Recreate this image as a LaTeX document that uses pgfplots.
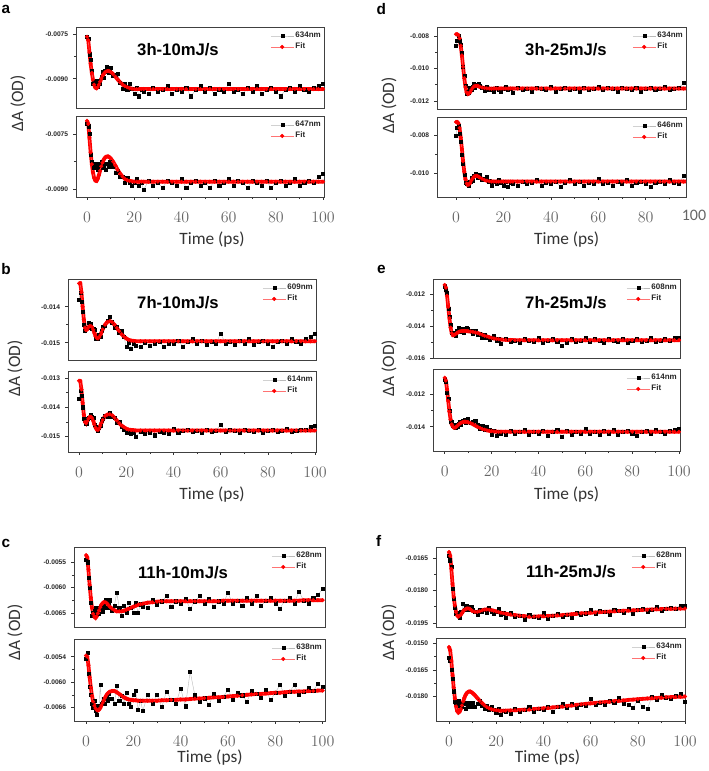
\documentclass[border=0pt]{standalone}
\usepackage{pgfplots}
\pgfplotsset{compat=1.18}
\usepackage{pgfplotstable}
\usepackage{fontspec}
\setmainfont{Liberation Sans}
\newfontfamily\lightfont{Carlito}

\pgfplotstableread{
t aT aB bT bB cT cB dT dB eT eB fT fB
0 -0.00758 -0.00720 -0.01380 -0.01370 -0.00545 -0.00545 -0.00860 -0.00800 -0.01150 -0.01110 -0.01640 -0.01580
0.5 -0.00763 -0.00728 -0.01360 -0.01345 -0.00550 -0.00530 -0.00830 -0.00760 -0.01175 -0.01120 -0.01660 -0.01600
1 -0.00817 -0.00748 -0.01385 -0.01360 -0.00580 -0.00580 -0.00800 -0.00750 -0.01190 -0.01190 -0.01690 -0.01650
1.5 -0.00836 -0.00806 -0.01415 -0.01400 -0.00600 -0.00610 -0.00830 -0.00790 -0.01290 -0.01226 -0.01790 -0.01700
2 -0.00873 -0.00826 -0.01450 -0.01440 -0.00630 -0.00630 -0.00852 -0.00830 -0.01340 -0.01298 -0.01840 -0.01770
2.5 -0.00917 -0.00830 -0.01466 -0.01445 -0.00655 -0.00650 -0.00904 -0.00900 -0.01394 -0.01369 -0.01880 -0.01830
3 -0.00906 -0.00842 -0.01457 -0.01455 -0.00650 -0.00660 -0.00990 -0.00950 -0.01445 -0.01371 -0.01905 -0.01834
3.5 -0.00923 -0.00830 -0.01458 -0.01439 -0.00645 -0.00645 -0.01044 -0.01005 -0.01442 -0.01393 -0.01902 -0.01842
4 -0.00911 -0.00836 -0.01445 -0.01434 -0.00640 -0.00668 -0.01107 -0.01050 -0.01449 -0.01385 -0.01914 -0.01826
4.5 -0.00928 -0.00848 -0.01454 -0.01437 -0.00650 -0.00678 -0.01156 -0.01052 -0.01460 -0.01405 -0.01925 -0.01850
5 -0.00906 -0.00830 -0.01446 -0.01424 -0.00640 -0.00655 -0.01142 -0.01046 -0.01430 -0.01386 -0.01898 -0.01834
5.5 -0.00917 -0.00836 -0.01461 -0.01433 -0.00652 -0.00660 -0.01147 -0.01064 -0.01433 -0.01400 -0.01897 -0.01858
6 -0.00893 -0.00824 -0.01460 -0.01434 -0.00642 -0.00607 -0.01121 -0.01041 -0.01413 -0.01379 -0.01860 -0.01842
6.5 -0.00877 -0.00842 -0.01465 -0.01458 -0.00636 -0.00650 -0.01132 -0.01022 -0.01434 -0.01366 -0.01890 -0.01834
7 -0.00898 -0.00836 -0.01490 -0.01465 -0.00648 -0.00648 -0.01112 -0.01039 -0.01424 -0.01389 -0.01879 -0.01866
7.5 -0.00872 -0.00830 -0.01483 -0.01468 -0.00632 -0.00640 -0.01096 -0.01010 -0.01415 -0.01365 -0.01870 -0.01842
8 -0.00876 -0.00848 -0.01488 -0.01481 -0.00640 -0.00650 -0.01116 -0.01013 -0.01439 -0.01370 -0.01890 -0.01850
8.5 -0.00860 -0.00832 -0.01477 -0.01468 -0.00625 -0.00638 -0.01099 -0.00998 -0.01423 -0.01355 -0.01877 -0.01834
9 -0.00881 -0.00838 -0.01483 -0.01463 -0.00640 -0.00645 -0.01108 -0.01020 -0.01426 -0.01376 -0.01887 -0.01858
9.5 -0.00868 -0.00826 -0.01467 -0.01445 -0.00632 -0.00628 -0.01094 -0.01009 -0.01410 -0.01363 -0.01877 -0.01842
10 -0.00863 -0.00832 -0.01455 -0.01439 -0.00625 -0.00640 -0.01105 -0.01006 -0.01419 -0.01353 -0.01888 -0.01834
11 -0.00891 -0.00840 -0.01454 -0.01430 -0.00645 -0.00640 -0.01118 -0.01034 -0.01429 -0.01376 -0.01899 -0.01858
12 -0.00886 -0.00855 -0.01438 -0.01433 -0.00635 -0.00650 -0.01137 -0.01026 -0.01447 -0.01367 -0.01913 -0.01842
13 -0.00882 -0.00850 -0.01428 -0.01420 -0.00610 -0.00608 -0.01115 -0.01016 -0.01432 -0.01361 -0.01889 -0.01826
14 -0.00912 -0.00866 -0.01443 -0.01432 -0.00640 -0.00645 -0.01132 -0.01040 -0.01452 -0.01390 -0.01899 -0.01850
15 -0.00933 -0.00866 -0.01458 -0.01436 -0.00655 -0.00632 -0.01125 -0.01062 -0.01449 -0.01411 -0.01889 -0.01866
16 -0.00918 -0.00884 -0.01455 -0.01453 -0.00636 -0.00650 -0.01142 -0.01041 -0.01471 -0.01396 -0.01902 -0.01851
17 -0.00936 -0.00870 -0.01472 -0.01450 -0.00650 -0.00625 -0.01118 -0.01055 -0.01453 -0.01415 -0.01882 -0.01874
18 -0.00918 -0.00884 -0.01468 -0.01466 -0.00630 -0.00650 -0.01134 -0.01034 -0.01474 -0.01398 -0.01898 -0.01855
19 -0.00934 -0.00890 -0.01483 -0.01476 -0.00640 -0.00658 -0.01142 -0.01048 -0.01487 -0.01420 -0.01908 -0.01875
20 -0.00952 -0.00884 -0.01512 -0.01487 -0.00650 -0.00630 -0.01126 -0.01062 -0.01475 -0.01447 -0.01897 -0.01893
21 -0.00931 -0.00872 -0.01500 -0.01479 -0.00630 -0.00620 -0.01110 -0.01041 -0.01462 -0.01426 -0.01886 -0.01870
22 -0.00959 -0.00890 -0.01516 -0.01491 -0.00650 -0.00665 -0.01134 -0.01069 -0.01489 -0.01454 -0.01910 -0.01903
23 -0.00938 -0.00884 -0.01504 -0.01487 -0.00633 -0.00644 -0.01126 -0.01048 -0.01483 -0.01433 -0.01905 -0.01879
24 -0.00945 -0.00902 -0.01508 -0.01499 -0.00637 -0.00668 -0.01150 -0.01055 -0.01509 -0.01440 -0.01928 -0.01887
26 -0.00952 -0.00878 -0.01512 -0.01483 -0.00640 -0.00630 -0.01118 -0.01062 -0.01479 -0.01447 -0.01904 -0.01894
28 -0.00931 -0.00890 -0.01500 -0.01491 -0.00624 -0.00652 -0.01134 -0.01041 -0.01498 -0.01426 -0.01921 -0.01869
30 -0.00945 -0.00884 -0.01508 -0.01487 -0.00633 -0.00630 -0.01126 -0.01055 -0.01490 -0.01440 -0.01917 -0.01883
32 -0.00938 -0.00896 -0.01504 -0.01495 -0.00627 -0.00659 -0.01142 -0.01048 -0.01506 -0.01433 -0.01933 -0.01874
34 -0.00924 -0.00878 -0.01496 -0.01483 -0.00617 -0.00622 -0.01118 -0.01034 -0.01482 -0.01419 -0.01914 -0.01856
36 -0.00952 -0.00884 -0.01512 -0.01487 -0.00637 -0.00642 -0.01126 -0.01062 -0.01490 -0.01447 -0.01921 -0.01886
38 -0.00938 -0.00890 -0.01504 -0.01491 -0.00627 -0.00650 -0.01134 -0.01048 -0.01498 -0.01433 -0.01927 -0.01868
40 -0.00945 -0.00872 -0.01502 -0.01472 -0.00632 -0.00615 -0.01110 -0.01055 -0.01474 -0.01440 -0.01905 -0.01874
42 -0.00931 -0.00896 -0.01494 -0.01488 -0.00622 -0.00657 -0.01142 -0.01041 -0.01506 -0.01426 -0.01932 -0.01856
44 -0.00959 -0.00884 -0.01510 -0.01480 -0.00642 -0.00575 -0.01126 -0.01069 -0.01490 -0.01454 -0.01917 -0.01885
46 -0.00938 -0.00878 -0.01498 -0.01476 -0.00627 -0.00631 -0.01118 -0.01048 -0.01482 -0.01433 -0.01908 -0.01858
48 -0.00924 -0.00890 -0.01490 -0.01484 -0.00617 -0.00647 -0.01134 -0.01034 -0.01498 -0.01419 -0.01921 -0.01840
50 -0.00945 -0.00884 -0.01502 -0.01480 -0.00632 -0.00638 -0.01126 -0.01055 -0.01522 -0.01462 -0.01912 -0.01861
52 -0.00931 -0.00896 -0.01494 -0.01488 -0.00622 -0.00653 -0.01142 -0.01041 -0.01506 -0.01426 -0.01924 -0.01842
54 -0.00952 -0.00878 -0.01506 -0.01476 -0.00637 -0.00628 -0.01118 -0.01062 -0.01482 -0.01447 -0.01901 -0.01863
56 -0.00938 -0.00890 -0.01498 -0.01484 -0.00627 -0.00644 -0.01134 -0.01048 -0.01498 -0.01433 -0.01913 -0.01844
58 -0.00945 -0.00884 -0.01502 -0.01480 -0.00631 -0.00635 -0.01126 -0.01055 -0.01490 -0.01440 -0.01905 -0.01849
60 -0.00917 -0.00872 -0.01474 -0.01458 -0.00611 -0.00618 -0.01110 -0.01027 -0.01474 -0.01412 -0.01889 -0.01814
62 -0.00945 -0.00890 -0.01502 -0.01484 -0.00631 -0.00641 -0.01134 -0.01055 -0.01498 -0.01440 -0.01909 -0.01844
64 -0.00938 -0.00878 -0.01498 -0.01476 -0.00626 -0.00624 -0.01118 -0.01048 -0.01482 -0.01433 -0.01893 -0.01833
66 -0.00952 -0.00884 -0.01506 -0.01480 -0.00636 -0.00631 -0.01126 -0.01062 -0.01490 -0.01447 -0.01899 -0.01847
68 -0.00931 -0.00896 -0.01494 -0.01488 -0.00621 -0.00646 -0.01142 -0.01041 -0.01506 -0.01426 -0.01912 -0.01821
70 -0.00945 -0.00878 -0.01502 -0.01476 -0.00631 -0.00621 -0.01118 -0.01055 -0.01482 -0.01440 -0.01889 -0.01834
72 -0.00924 -0.00884 -0.01490 -0.01480 -0.00616 -0.00628 -0.01126 -0.01034 -0.01490 -0.01419 -0.01895 -0.01808
74 -0.00952 -0.00890 -0.01506 -0.01484 -0.00636 -0.00636 -0.01134 -0.01062 -0.01498 -0.01447 -0.01901 -0.01838
76 -0.00938 -0.00878 -0.01498 -0.01476 -0.00626 -0.00619 -0.01118 -0.01048 -0.01482 -0.01433 -0.01886 -0.01845
78 -0.00931 -0.00896 -0.01494 -0.01488 -0.00621 -0.00642 -0.01142 -0.01041 -0.01506 -0.01426 -0.01906 -0.01860
80 -0.00945 -0.00884 -0.01502 -0.01480 -0.00631 -0.00625 -0.01126 -0.01055 -0.01490 -0.01440 -0.01891 -0.01823
82 -0.00959 -0.00878 -0.01510 -0.01476 -0.00641 -0.00606 -0.01118 -0.01069 -0.01482 -0.01454 -0.01883 -0.01855
84 -0.00938 -0.00890 -0.01498 -0.01484 -0.00626 -0.00632 -0.01134 -0.01048 -0.01498 -0.01433 -0.01896 -0.01870
86 -0.00931 -0.00884 -0.01494 -0.01480 -0.00621 -0.00623 -0.01126 -0.01041 -0.01490 -0.01426 -0.01888 -0.01801
88 -0.00945 -0.00872 -0.01502 -0.01472 -0.00631 -0.00607 -0.01110 -0.01055 -0.01474 -0.01440 -0.01873 -0.01816
90 -0.00924 -0.00890 -0.01490 -0.01484 -0.00608 -0.00630 -0.01134 -0.01034 -0.01498 -0.01419 -0.01893 -0.01790
92 -0.00938 -0.00884 -0.01498 -0.01480 -0.00626 -0.00622 -0.01126 -0.01048 -0.01490 -0.01433 -0.01885 -0.01804
94 -0.00945 -0.00878 -0.01502 -0.01476 -0.00631 -0.00613 -0.01118 -0.01055 -0.01482 -0.01440 -0.01878 -0.01811
96 -0.00931 -0.00884 -0.01488 -0.01476 -0.00620 -0.00621 -0.01090 -0.01010 -0.01490 -0.01426 -0.01884 -0.01794
98 -0.00924 -0.00866 -0.01482 -0.01466 -0.00615 -0.00604 -0.01100 -0.01000 -0.01474 -0.01419 -0.01870 -0.01785
100 -0.00917 -0.00858 -0.01474 -0.01462 -0.00602 -0.00610 -0.01105 -0.01000 -0.01474 -0.01412 -0.01870 -0.01830
}\datatab

\pgfplotstableread{
t aT aB bT bB cT cB dT dB eT eB fT fB
0 -0.00758 -0.00713 -0.01335 -0.01310 -0.00536 -0.00537 -0.00790 -0.00728 -0.01142 -0.01097 -0.01622 -0.01522
0.5 -0.00770 -0.00722 -0.01335 -0.01311 -0.00540 -0.00540 -0.00790 -0.00728 -0.01160 -0.01115 -0.01640 -0.01540
1 -0.00810 -0.00760 -0.01360 -0.01340 -0.00565 -0.00560 -0.00795 -0.00735 -0.01210 -0.01170 -0.01700 -0.01600
1.5 -0.00850 -0.00800 -0.01400 -0.01385 -0.00595 -0.00588 -0.00815 -0.00760 -0.01280 -0.01240 -0.01770 -0.01680
2 -0.00880 -0.00832 -0.01435 -0.01425 -0.00620 -0.00612 -0.00860 -0.00810 -0.01350 -0.01305 -0.01830 -0.01750
2.5 -0.00903 -0.00855 -0.01458 -0.01450 -0.00640 -0.00632 -0.00920 -0.00870 -0.01410 -0.01355 -0.01870 -0.01810
3 -0.00920 -0.00870 -0.01465 -0.01455 -0.00652 -0.00646 -0.00990 -0.00935 -0.01445 -0.01385 -0.01900 -0.01855
3.5 -0.00930 -0.00877 -0.01462 -0.01447 -0.00658 -0.00656 -0.01060 -0.00990 -0.01458 -0.01400 -0.01916 -0.01882
4 -0.00932 -0.00878 -0.01457 -0.01438 -0.00660 -0.00662 -0.01115 -0.01030 -0.01457 -0.01406 -0.01921 -0.01890
4.5 -0.00928 -0.00872 -0.01454 -0.01433 -0.00657 -0.00666 -0.01148 -0.01052 -0.01452 -0.01405 -0.01918 -0.01885
5 -0.00920 -0.00862 -0.01454 -0.01432 -0.00651 -0.00667 -0.01158 -0.01060 -0.01446 -0.01400 -0.01912 -0.01870
5.5 -0.00910 -0.00850 -0.01457 -0.01437 -0.00645 -0.00665 -0.01155 -0.01057 -0.01441 -0.01393 -0.01904 -0.01850
6 -0.00900 -0.00838 -0.01464 -0.01446 -0.00639 -0.00661 -0.01145 -0.01048 -0.01437 -0.01386 -0.01896 -0.01828
6.5 -0.00891 -0.00828 -0.01473 -0.01458 -0.00634 -0.00655 -0.01132 -0.01036 -0.01434 -0.01380 -0.01890 -0.01808
7 -0.00884 -0.00820 -0.01482 -0.01469 -0.00631 -0.00649 -0.01120 -0.01025 -0.01432 -0.01375 -0.01886 -0.01792
7.5 -0.00879 -0.00815 -0.01487 -0.01476 -0.00629 -0.00643 -0.01112 -0.01017 -0.01431 -0.01372 -0.01884 -0.01781
8 -0.00876 -0.00812 -0.01488 -0.01477 -0.00629 -0.00637 -0.01108 -0.01013 -0.01431 -0.01370 -0.01883 -0.01775
8.5 -0.00874 -0.00811 -0.01485 -0.01472 -0.00630 -0.00632 -0.01107 -0.01012 -0.01431 -0.01369 -0.01884 -0.01772
9 -0.00874 -0.00811 -0.01479 -0.01463 -0.00632 -0.00628 -0.01108 -0.01013 -0.01432 -0.01369 -0.01887 -0.01772
9.5 -0.00875 -0.00813 -0.01471 -0.01453 -0.00635 -0.00625 -0.01110 -0.01016 -0.01432 -0.01370 -0.01891 -0.01775
10 -0.00877 -0.00816 -0.01463 -0.01443 -0.00638 -0.00623 -0.01113 -0.01020 -0.01433 -0.01372 -0.01895 -0.01780
11 -0.00884 -0.00825 -0.01450 -0.01430 -0.00642 -0.00621 -0.01118 -0.01027 -0.01435 -0.01377 -0.01899 -0.01793
12 -0.00893 -0.00836 -0.01442 -0.01425 -0.00645 -0.00621 -0.01121 -0.01033 -0.01437 -0.01384 -0.01899 -0.01808
13 -0.00903 -0.00848 -0.01440 -0.01424 -0.00647 -0.00624 -0.01123 -0.01037 -0.01440 -0.01392 -0.01896 -0.01823
14 -0.00912 -0.00858 -0.01443 -0.01428 -0.00647 -0.00628 -0.01124 -0.01040 -0.01444 -0.01400 -0.01892 -0.01837
15 -0.00919 -0.00866 -0.01450 -0.01436 -0.00647 -0.00632 -0.01125 -0.01041 -0.01449 -0.01407 -0.01889 -0.01849
16 -0.00925 -0.00872 -0.01459 -0.01445 -0.00646 -0.00636 -0.01124 -0.01042 -0.01455 -0.01413 -0.01888 -0.01859
17 -0.00929 -0.00876 -0.01468 -0.01454 -0.00644 -0.00639 -0.01124 -0.01042 -0.01461 -0.01418 -0.01889 -0.01866
18 -0.00932 -0.00878 -0.01476 -0.01462 -0.00642 -0.00641 -0.01124 -0.01042 -0.01466 -0.01422 -0.01891 -0.01871
19 -0.00934 -0.00879 -0.01483 -0.01468 -0.00640 -0.00642 -0.01124 -0.01042 -0.01471 -0.01425 -0.01894 -0.01875
20 -0.00935 -0.00880 -0.01488 -0.01473 -0.00638 -0.00643 -0.01124 -0.01042 -0.01475 -0.01427 -0.01897 -0.01877
21 -0.00935 -0.00880 -0.01492 -0.01476 -0.00636 -0.00643 -0.01124 -0.01042 -0.01478 -0.01429 -0.01900 -0.01878
22 -0.00935 -0.00880 -0.01494 -0.01477 -0.00634 -0.00644 -0.01124 -0.01042 -0.01481 -0.01430 -0.01903 -0.01879
23 -0.00935 -0.00880 -0.01495 -0.01478 -0.00633 -0.00644 -0.01124 -0.01042 -0.01483 -0.01431 -0.01905 -0.01879
24 -0.00935 -0.00880 -0.01496 -0.01479 -0.00632 -0.00644 -0.01124 -0.01042 -0.01485 -0.01431 -0.01907 -0.01879
26 -0.00935 -0.00880 -0.01496 -0.01479 -0.00630 -0.00644 -0.01124 -0.01042 -0.01487 -0.01431 -0.01911 -0.01878
28 -0.00935 -0.00880 -0.01496 -0.01479 -0.00629 -0.00644 -0.01124 -0.01042 -0.01488 -0.01431 -0.01914 -0.01877
30 -0.00935 -0.00880 -0.01496 -0.01479 -0.00628 -0.00644 -0.01124 -0.01042 -0.01489 -0.01431 -0.01917 -0.01875
32 -0.00935 -0.00880 -0.01496 -0.01479 -0.00627 -0.00643 -0.01124 -0.01042 -0.01489 -0.01431 -0.01919 -0.01874
34 -0.00935 -0.00880 -0.01496 -0.01479 -0.00627 -0.00643 -0.01124 -0.01042 -0.01489 -0.01431 -0.01921 -0.01872
36 -0.00935 -0.00880 -0.01496 -0.01479 -0.00627 -0.00642 -0.01124 -0.01042 -0.01489 -0.01431 -0.01921 -0.01870
38 -0.00935 -0.00880 -0.01496 -0.01479 -0.00627 -0.00642 -0.01124 -0.01042 -0.01489 -0.01431 -0.01920 -0.01868
40 -0.00935 -0.00880 -0.01496 -0.01479 -0.00627 -0.00641 -0.01124 -0.01042 -0.01489 -0.01431 -0.01919 -0.01866
42 -0.00935 -0.00880 -0.01496 -0.01479 -0.00627 -0.00641 -0.01124 -0.01042 -0.01489 -0.01431 -0.01918 -0.01864
44 -0.00935 -0.00880 -0.01496 -0.01479 -0.00627 -0.00640 -0.01124 -0.01042 -0.01489 -0.01431 -0.01917 -0.01861
46 -0.00935 -0.00880 -0.01496 -0.01479 -0.00627 -0.00639 -0.01124 -0.01042 -0.01489 -0.01431 -0.01915 -0.01858
48 -0.00935 -0.00880 -0.01496 -0.01479 -0.00627 -0.00639 -0.01124 -0.01042 -0.01489 -0.01431 -0.01914 -0.01856
50 -0.00935 -0.00880 -0.01496 -0.01479 -0.00627 -0.00638 -0.01124 -0.01042 -0.01489 -0.01431 -0.01912 -0.01853
52 -0.00935 -0.00880 -0.01496 -0.01479 -0.00627 -0.00637 -0.01124 -0.01042 -0.01489 -0.01431 -0.01910 -0.01850
54 -0.00935 -0.00880 -0.01496 -0.01479 -0.00627 -0.00636 -0.01124 -0.01042 -0.01489 -0.01431 -0.01908 -0.01847
56 -0.00935 -0.00880 -0.01496 -0.01479 -0.00627 -0.00636 -0.01124 -0.01042 -0.01489 -0.01431 -0.01906 -0.01844
58 -0.00935 -0.00880 -0.01496 -0.01479 -0.00626 -0.00635 -0.01124 -0.01042 -0.01489 -0.01431 -0.01905 -0.01841
60 -0.00935 -0.00880 -0.01496 -0.01479 -0.00626 -0.00634 -0.01124 -0.01042 -0.01489 -0.01431 -0.01903 -0.01838
62 -0.00935 -0.00880 -0.01496 -0.01479 -0.00626 -0.00633 -0.01124 -0.01042 -0.01489 -0.01431 -0.01902 -0.01836
64 -0.00935 -0.00880 -0.01496 -0.01479 -0.00626 -0.00632 -0.01124 -0.01042 -0.01489 -0.01431 -0.01900 -0.01833
66 -0.00935 -0.00880 -0.01496 -0.01479 -0.00626 -0.00631 -0.01124 -0.01042 -0.01489 -0.01431 -0.01899 -0.01831
68 -0.00935 -0.00880 -0.01496 -0.01479 -0.00626 -0.00630 -0.01124 -0.01042 -0.01489 -0.01431 -0.01898 -0.01829
70 -0.00935 -0.00880 -0.01496 -0.01479 -0.00626 -0.00629 -0.01124 -0.01042 -0.01489 -0.01431 -0.01896 -0.01826
72 -0.00935 -0.00880 -0.01496 -0.01479 -0.00626 -0.00628 -0.01124 -0.01042 -0.01489 -0.01431 -0.01895 -0.01824
74 -0.00935 -0.00880 -0.01496 -0.01479 -0.00626 -0.00628 -0.01124 -0.01042 -0.01489 -0.01431 -0.01894 -0.01822
76 -0.00935 -0.00880 -0.01496 -0.01479 -0.00626 -0.00627 -0.01124 -0.01042 -0.01489 -0.01431 -0.01893 -0.01819
78 -0.00935 -0.00880 -0.01496 -0.01479 -0.00626 -0.00626 -0.01124 -0.01042 -0.01489 -0.01431 -0.01892 -0.01817
80 -0.00935 -0.00880 -0.01496 -0.01479 -0.00626 -0.00625 -0.01124 -0.01042 -0.01489 -0.01431 -0.01891 -0.01815
82 -0.00935 -0.00880 -0.01496 -0.01479 -0.00626 -0.00625 -0.01124 -0.01042 -0.01489 -0.01431 -0.01890 -0.01813
84 -0.00935 -0.00880 -0.01496 -0.01479 -0.00626 -0.00624 -0.01124 -0.01042 -0.01489 -0.01431 -0.01889 -0.01811
86 -0.00935 -0.00880 -0.01496 -0.01479 -0.00626 -0.00623 -0.01124 -0.01042 -0.01489 -0.01431 -0.01888 -0.01809
88 -0.00935 -0.00880 -0.01496 -0.01479 -0.00626 -0.00623 -0.01124 -0.01042 -0.01489 -0.01431 -0.01887 -0.01808
90 -0.00935 -0.00880 -0.01496 -0.01479 -0.00626 -0.00622 -0.01124 -0.01042 -0.01489 -0.01431 -0.01886 -0.01806
92 -0.00935 -0.00880 -0.01496 -0.01479 -0.00625 -0.00622 -0.01124 -0.01042 -0.01489 -0.01431 -0.01885 -0.01804
94 -0.00935 -0.00880 -0.01496 -0.01479 -0.00625 -0.00621 -0.01124 -0.01042 -0.01489 -0.01431 -0.01885 -0.01803
96 -0.00935 -0.00880 -0.01496 -0.01479 -0.00625 -0.00621 -0.01124 -0.01042 -0.01489 -0.01431 -0.01884 -0.01802
98 -0.00935 -0.00880 -0.01496 -0.01479 -0.00625 -0.00620 -0.01124 -0.01042 -0.01489 -0.01431 -0.01884 -0.01801
100 -0.00935 -0.00880 -0.01496 -0.01479 -0.00625 -0.00620 -0.01124 -0.01042 -0.01489 -0.01431 -0.01883 -0.01800
}\fittab

\pgfplotsset{
  panel/.style={
    scale only axis, anchor=north west,
    xmin=-4.7, xmax=100.4,
    scaled y ticks=false,
    axis line style={black!75, line width=0.5pt},
    tick align=outside, xtick pos=left, ytick pos=left,
    major tick length=2.2pt, minor tick length=1.5pt,
    tick style={black!80, line width=0.4pt},
    minor y tick num=1,
    yticklabel style={font=\fontsize{5}{6}\selectfont\bfseries, text=black!85, inner sep=1pt, xshift=-2.5pt},
    legend style={at={(1,1)}, anchor=north east, xshift=-1pt, yshift=-2.5pt,
      draw=none, fill=none, font=\fontsize{6}{7}\selectfont\bfseries, text=black!85,
      row sep=0pt, inner sep=0pt, nodes={inner sep=1.2pt}},
    legend cell align=left,
    xtick=\empty,
  },
  bot/.style={
    xtick={0,20,...,100}, minor x tick num=1,
    xticklabel style={font=\lightfont\fontsize{12}{14}\selectfont, text=black!60, anchor=center, yshift=-13pt},
  },
  datast/.style={gray!55, line width=0.3pt, mark=square*, mark size=1.15pt, mark options={black, solid}},
  fitthick/.style={red, line width=2.8pt, forget plot},
  fitdot/.style={red!55, line width=0.35pt, mark=*, mark size=1.35pt, mark options={red, solid}},
}
\newcommand{\curves}[2]{%
  \addplot[datast] table[x=t,y=#1]{\datatab};
  \addplot[fitthick] table[x=t,y=#1]{\fittab};
  \addplot[fitdot] table[x=t,y=#1]{\fittab};
  \legend{#2,Fit}
}

\begin{document}
\begin{tikzpicture}
\path[use as bounding box] (0,0) rectangle (531pt,-578.25pt);

% ---- panel a ----
\begin{axis}[panel, at={(57pt,-20.25pt)}, width=186pt, height=60.75pt,
  ymin=-0.00999, ymax=-0.00725, ytick={-0.0075,-0.009}, yticklabels={-0.0075,-0.0090}]
\curves{aT}{634nm}
\end{axis}
\begin{axis}[panel, bot, at={(57pt,-87pt)}, width=186pt, height=60.75pt,
  ymin=-0.00922, ymax=-0.00700, ytick={-0.0075,-0.009}, yticklabels={-0.0075,-0.0090}]
\curves{aB}{647nm}
\end{axis}

% ---- panel d ----
\begin{axis}[panel, at={(327.75pt,-20.25pt)}, width=186.75pt, height=61.5pt, xmin=-8, xmax=97,
  ymin=-0.0125, ymax=-0.00745, ytick={-0.008,-0.010,-0.012}, yticklabels={-0.008,-0.010,-0.012}]
\curves{dT}{634nm}
\end{axis}
\begin{axis}[panel, bot, at={(327.75pt,-87.75pt)}, width=186.75pt, height=60pt, xmin=-8, xmax=97,
  ymin=-0.01123, ymax=-0.00702, ytick={-0.008,-0.010}, yticklabels={-0.008,-0.010}]
\curves{dB}{646nm}
\end{axis}

% ---- panel b ----
\begin{axis}[panel, at={(51pt,-209.25pt)}, width=186pt, height=60.75pt,
  ymin=-0.01548, ymax=-0.01323, ytick={-0.014,-0.015}, yticklabels={-0.014,-0.015}]
\curves{bT}{609nm}
\end{axis}
\begin{axis}[panel, bot, at={(51pt,-278.25pt)}, width=186pt, height=60.75pt,
  ymin=-0.01552, ymax=-0.01277, ytick={-0.013,-0.014,-0.015}, yticklabels={-0.013,-0.014,-0.015}]
\curves{bB}{614nm}
\end{axis}

% ---- panel e ----
\begin{axis}[panel, at={(324.75pt,-209.25pt)}, width=185.25pt, height=59.25pt, xmin=-5, xmax=100.4,
  ymin=-0.01601, ymax=-0.01105, ytick={-0.012,-0.014,-0.016}, yticklabels={-0.012,-0.014,-0.016}]
\curves{eT}{608nm}
\end{axis}
\begin{axis}[panel, bot, at={(324.75pt,-276.75pt)}, width=185.25pt, height=61.5pt, xmin=-5, xmax=100.4,
  ymin=-0.0155, ymax=-0.01043, ytick={-0.012,-0.014}, yticklabels={-0.012,-0.014}]
\curves{eB}{614nm}
\end{axis}

% ---- panel c ----
\begin{axis}[panel, at={(55.5pt,-410.25pt)}, width=188.25pt, height=60pt, xmin=-5.1, xmax=101,
  ymin=-0.00678, ymax=-0.0052, ytick={-0.0055,-0.006,-0.0065}, yticklabels={-0.0055,-0.0060,-0.0065}]
\curves{cT}{628nm}
\end{axis}
\begin{axis}[panel, bot, at={(55.5pt,-479.25pt)}, width=188.25pt, height=61.5pt, xmin=-5.1, xmax=101,
  ymin=-0.00692, ymax=-0.00498, ytick={-0.0054,-0.006,-0.0066}, yticklabels={-0.0054,-0.0060,-0.0066}]
\curves{cB}{638nm}
\end{axis}

% ---- panel f ----
\begin{axis}[panel, at={(327pt,-410.25pt)}, width=186.75pt, height=60pt, xmin=-5.5, xmax=100,
  ymin=-0.01969, ymax=-0.01599, ytick={-0.0165,-0.018,-0.0195}, yticklabels={-0.0165,-0.0180,-0.0195}]
\curves{fT}{628nm}
\end{axis}
\begin{axis}[panel, bot, at={(327pt,-478.5pt)}, width=186.75pt, height=62.25pt, xmin=-5.5, xmax=100,
  ymin=-0.01937, ymax=-0.01472, ytick={-0.015,-0.0165,-0.018}, yticklabels={-0.0150,-0.0165,-0.0180}]
\curves{fB}{634nm}
\end{axis}

% ---- extra tick label beyond the d axis ----
\node[font=\lightfont\fontsize{12}{14}\selectfont, text=black!60] at (520.5pt,-161.25pt) {100};

% ---- panel letters ----
\begin{scope}[every node/.style={font=\fontsize{11.5}{13}\selectfont\bfseries}]
\node at (4.5pt,-6.75pt) {a};
\node at (286pt,-6.4pt) {d};
\node at (4.5pt,-201.75pt) {b};
\node at (286pt,-201.75pt) {e};
\node at (4.5pt,-407.25pt) {c};
\node at (284pt,-405.75pt) {f};
\end{scope}

% ---- titles ----
\begin{scope}[every node/.style={font=\fontsize{12.5}{14}\selectfont\bfseries}]
\node at (133.5pt,-37.5pt) {3h-10mJ/s};
\node at (424.5pt,-37.5pt) {3h-25mJ/s};
\node at (133.5pt,-227.25pt) {7h-10mJ/s};
\node at (424.5pt,-227.25pt) {7h-25mJ/s};
\node at (137.25pt,-429.75pt) {11h-10mJ/s};
\node at (428.25pt,-429pt) {11h-25mJ/s};
\end{scope}

% ---- axis titles ----
\begin{scope}[every node/.style={font=\lightfont\fontsize{13}{15}\selectfont, text=black!80}]
\node[rotate=90] at (13.5pt,-77.6pt) {ΔA (OD)};
\node[rotate=90] at (291.75pt,-79pt) {ΔA (OD)};
\node[rotate=90] at (11.25pt,-276.4pt) {ΔA (OD)};
\node[rotate=90] at (291.75pt,-276pt) {ΔA (OD)};
\node[rotate=90] at (11.25pt,-474.4pt) {ΔA (OD)};
\node[rotate=90] at (291.75pt,-474.4pt) {ΔA (OD)};
\node at (159pt,-180pt) {Time (ps)};
\node at (425pt,-180pt) {Time (ps)};
\node at (159pt,-371.25pt) {Time (ps)};
\node at (425pt,-371.25pt) {Time (ps)};
\node at (157.5pt,-568.5pt) {Time (ps)};
\node at (410.6pt,-568.5pt) {Time (ps)};
\end{scope}
\end{tikzpicture}
\end{document}
